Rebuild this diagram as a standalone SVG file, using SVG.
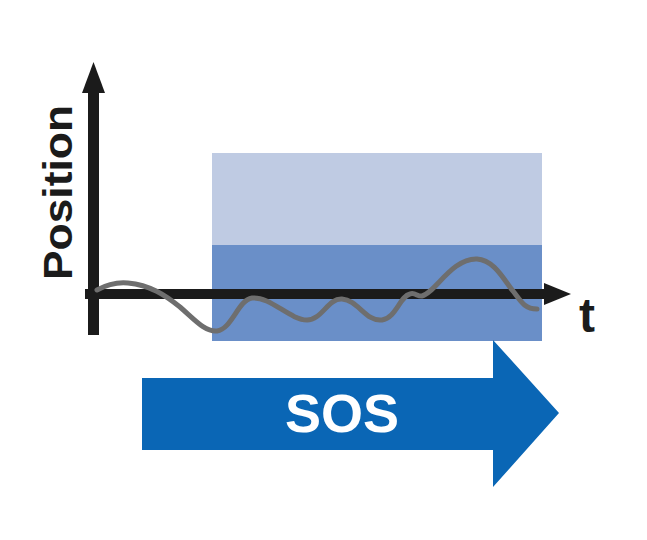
<svg xmlns="http://www.w3.org/2000/svg" width="647" height="540" viewBox="0 0 647 540">
<style>
.lbl{font-family:"Liberation Sans",Arial,sans-serif;font-weight:bold;}
.axis{fill:#1b1b1b;}
</style>
<rect width="647" height="540" fill="#ffffff"/>
<g id="band">
<rect x="212" y="153" width="330" height="92" fill="#bfcbe3"/>
<rect x="212" y="245" width="330" height="96" fill="#6a8fc8"/>
</g>
<g id="axes">
<rect class="axis" x="88" y="90" width="11" height="245"/>
<polygon class="axis" points="93.5,62 82,93 105,93"/>
<rect class="axis" x="85" y="289" width="462" height="10"/>
<polygon class="axis" points="571,294 544,283 544,305"/>
</g>
<g id="signal">
<path d="M97,290 C108,284 118,282 128,283 C150,285 165,295 180,307 C195,320 205,332 217,331 C232,329 238,300 252,298 C270,296 290,320 307,320 C322,320 328,298 342,299 C358,300 366,322 382,320 C396,318 400,296 410,294 C415,292 418,297 422,296 C435,293 452,258 477,259 C495,260 505,282 513,291 C520,300 524,309 537,309" fill="none" stroke="#6e6e6e" stroke-width="5" stroke-linecap="round" stroke-linejoin="round"/>
</g>
<g id="labels">
<text class="lbl" x="0" y="0" font-size="40" textLength="175" lengthAdjust="spacingAndGlyphs" transform="translate(72,280) rotate(-90)" fill="#1b1b1b">Position</text>
<text class="lbl" x="587" y="332" font-size="48" text-anchor="middle" fill="#1b1b1b">t</text>
</g>
<g id="sos">
<polygon points="142,378 493,378 493,340 559,413 493,487 493,450 142,450" fill="#0a66b5"/>
<text class="lbl" x="342" y="432" font-size="54" text-anchor="middle" fill="#ffffff">SOS</text>
</g>
</svg>
